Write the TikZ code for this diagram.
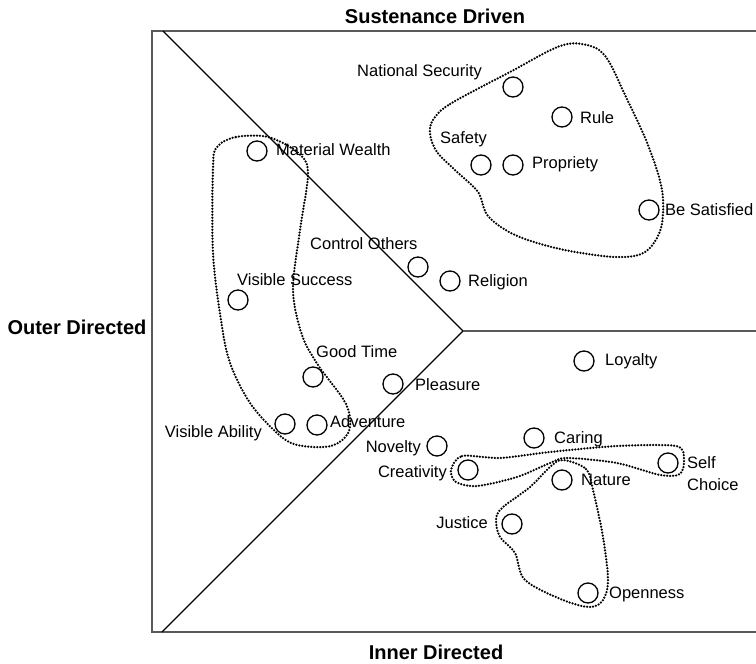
\documentclass[tikz,border=0pt]{standalone}
\usepackage{fontspec}
\setmainfont{Liberation Sans}
\begin{document}
\begin{tikzpicture}[x=1pt,y=-1pt,
  frameline/.style={draw=black!65,line width=2pt},
  divider/.style={draw=black,line width=1.3pt},
  value/.style={draw=black,circle,line width=1.3pt,minimum size=20pt,inner sep=0pt},
  lbl/.style={font=\fontsize{16.5}{19}\selectfont,inner sep=0pt,text height=0.9em,text depth=0pt},
  axis/.style={font=\fontsize{20}{24}\selectfont\bfseries,inner sep=0pt},
  cluster/.style={draw=black,line width=2.5pt,line cap=round,dash pattern=on 0pt off 3pt}
]
\useasboundingbox (0,0) rectangle (756,664);

% axis titles
\node[axis] (tSust) at (435,16) {Sustenance Driven};
\node[axis] (tOuter) at (77,327) {Outer Directed};
\node[axis] (tInner) at (436,652) {Inner Directed};

% frame (open on the right)
\coordinate (fTR) at (756,31);
\coordinate (fTL) at (152,31);
\coordinate (fBL) at (152,632);
\coordinate (fBR) at (756,632);
\draw[frameline] (fTR) -- (fTL) -- (fBL) -- (fBR);

% region dividers
\coordinate (dTop) at (163,31);
\coordinate (hub) at (463,331);
\coordinate (dBot) at (162,632);
\coordinate (dRight) at (756,331);
\draw[divider] (dTop) -- (hub) -- (dBot);
\draw[frameline] (hub) -- (dRight);

% value markers
\node[value] (cNat) at (513,87) {};
\node[value] (cRule) at (562,117) {};
\node[value] (cSafe) at (481,165) {};
\node[value] (cProp) at (513,165) {};
\node[value] (cSat) at (649,210) {};
\node[value] (cMat) at (257,151) {};
\node[value] (cCtrl) at (418,267) {};
\node[value] (cRel) at (450,281) {};
\node[value] (cVisS) at (238,300) {};
\node[value] (cGood) at (313,377) {};
\node[value] (cPlea) at (393,384) {};
\node[value] (cVisA) at (285,424) {};
\node[value] (cAdv) at (317,425) {};
\node[value] (cLoy) at (584,361) {};
\node[value] (cCar) at (534,438) {};
\node[value] (cNov) at (437,446) {};
\node[value] (cCre) at (468,470) {};
\node[value] (cNat2) at (562,480) {};
\node[value] (cSelf) at (668,463) {};
\node[value] (cJus) at (512,524) {};
\node[value] (cOpen) at (588,593) {};

% value labels
\node[lbl,anchor=west] (lNat) at (357,72) {National Security};
\node[lbl,anchor=west] (lRule) at (580,119) {Rule};
\node[lbl,anchor=west] (lSafe) at (440,139) {Safety};
\node[lbl,anchor=west] (lProp) at (532,164) {Propriety};
\node[lbl,anchor=west] (lSat) at (665,211) {Be Satisfied};
\node[lbl,anchor=west] (lMat) at (276,151) {Material Wealth};
\node[lbl,anchor=west] (lCtrl) at (310,245) {Control Others};
\node[lbl,anchor=west] (lRel) at (468,282) {Religion};
\node[lbl,anchor=west] (lVisS) at (237,281) {Visible Success};
\node[lbl,anchor=west] (lGood) at (316,353) {Good Time};
\node[lbl,anchor=west] (lPlea) at (415,386) {Pleasure};
\node[lbl,anchor=east] (lVisA) at (262,433) {Visible Ability};
\node[lbl,anchor=west] (lAdv) at (330,423) {Adventure};
\node[lbl,anchor=west] (lLoy) at (605,361) {Loyalty};
\node[lbl,anchor=west] (lCar) at (554,439) {Caring};
\node[lbl,anchor=east] (lNov) at (421,448) {Novelty};
\node[lbl,anchor=east] (lCre) at (447,473) {Creativity};
\node[lbl,anchor=west] (lNat2) at (581,481) {Nature};
\node[lbl,anchor=west] (lSelf) at (687,464) {Self};
\node[lbl,anchor=west] (lChoice) at (687,486) {Choice};
\node[lbl,anchor=east] (lJus) at (488,524) {Justice};
\node[lbl,anchor=west] (lOpen) at (609,594) {Openness};

% value clusters
\draw[cluster] plot[smooth cycle,tension=0.55] coordinates {
  (433,120) (450,104) (510,72) (560,46) (587,45) (606,57) (626,97)
  (648,145) (662,190) (661,228) (645,252) (615,257) (560,249)
  (515,235) (488,216) (478,192) (456,171) (437,152) (430,134)};
\draw[cluster] plot[smooth cycle,tension=0.55] coordinates {
  (217,147) (236,137) (268,137) (297,152) (308,172) (300,230)
  (293,290) (302,335) (318,365) (346,404) (349,431) (331,446)
  (297,445) (277,433) (250,403) (230,363) (221,320) (213,253) (213,168)};
\draw[cluster] plot[smooth cycle,tension=0.5] coordinates {
  (451,470) (462,456) (500,458) (550,452) (617,446) (676,446)
  (684,459) (680,474) (660,475) (617,463) (567,458) (550,463)
  (517,477) (477,486) (456,482)};
\draw[cluster] plot[smooth cycle,tension=0.55] coordinates {
  (563,460) (586,469) (593,490) (603,537) (608,580) (603,600)
  (590,607) (563,600) (525,580) (515,553) (500,537) (496,520)
  (502,508) (530,487) (550,467)};
\end{tikzpicture}
\end{document}
